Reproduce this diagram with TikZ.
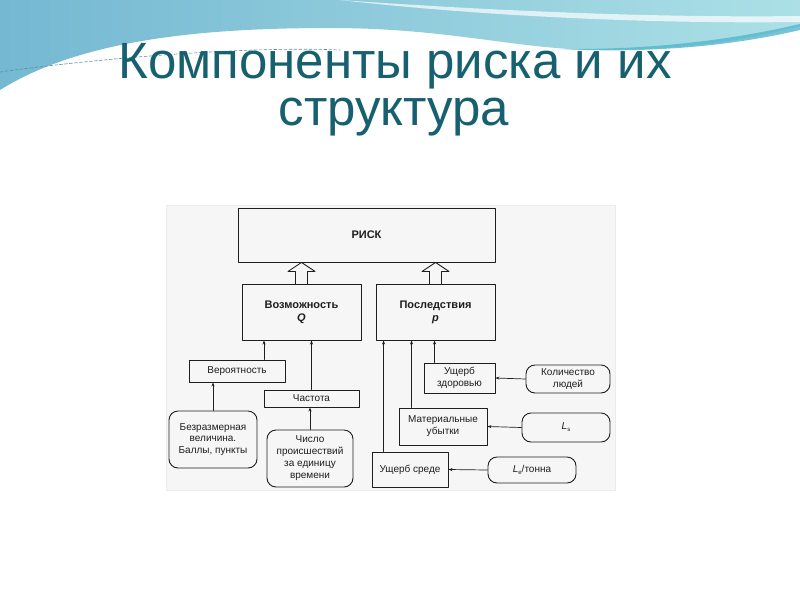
\documentclass[tikz,border=0pt]{standalone}
\usepackage{fontspec}
\setmainfont{Liberation Sans}
\usetikzlibrary{arrows.meta, positioning, calc, shapes.geometric}
\definecolor{SlideTeal}{RGB}{22, 96, 112}
\definecolor{WaveDark}{RGB}{116, 184, 210}
\definecolor{WaveLight}{RGB}{172, 224, 230}
\definecolor{WaveBand}{RGB}{84, 182, 204}
\definecolor{ScanGray}{RGB}{246, 246, 246}
\definecolor{InkBlack}{RGB}{30, 30, 30}
\tikzset{
    every node/.style={font=\fontsize{10}{12}\selectfont, text=InkBlack},
    every path/.style={line cap=round, line join=round},
    >={Stealth[length=4pt, width=3pt]},
    box/.style={draw=InkBlack, line width=0.9pt, inner sep=1pt, align=center},
    roundbox/.style={box, rounded corners=9pt},
    headbox/.style={box, font=\bfseries\fontsize{11}{13}\selectfont},
    link/.style={draw=InkBlack, line width=0.7pt, ->},
    blockarrow/.style={draw=InkBlack, line width=0.9pt, fill=ScanGray},
    titleline/.style={font=\fontsize{51}{51}\selectfont, text=SlideTeal, anchor=base}
}
\newcommand{\hollowarrow}[2]{%
    \draw [blockarrow] let \p1=(#1.north), \p2=(#2.south) in
        (\x1-6pt,\y1) -- (\x1-6pt,\y2-9pt) -- (\x1-13.5pt,\y2-9pt) -- (\x1,\y2)
        -- (\x1+13.5pt,\y2-9pt) -- (\x1+6pt,\y2-9pt) -- (\x1+6pt,\y1);
}
\newcommand{\lsub}[1]{\textit{L}\raisebox{-0.35ex}{\fontsize{6}{6}\selectfont #1}}

\begin{document}
\begin{tikzpicture}[x=1pt, y=-1pt]
    \useasboundingbox (0,0) rectangle (800,600);
    \fill [white] (0,0) rectangle (800,600);
    \shade [left color=WaveDark, right color=WaveLight]
        (0,0) -- (800,0) -- (800,26)
        .. controls (740,42) and (680,50) .. (600,50)
        .. controls (520,50) and (450,28) .. (330,28)
        .. controls (200,28) and (80,40) .. (0,90) -- cycle;
    \fill [white, opacity=0.7]
        (340,0) .. controls (480,10) and (650,18) .. (800,16)
        -- (800,22) .. controls (650,24) and (480,16) .. (340,0) -- cycle;
    \fill [WaveBand, opacity=0.8]
        (560,49) .. controls (660,50) and (740,38) .. (800,24)
        -- (800,30) .. controls (740,44) and (660,54) .. (560,49) -- cycle;
    \draw [SlideTeal!70, densely dashed, line width=0.6pt]
        (0,72) .. controls (100,58) and (250,46) .. (340,50);
    \node [titleline] (title) at (395,78) {Компоненты риска и их};
    \node [titleline] (subtitle) at (394,125) {структура};

    \fill [ScanGray, draw=black!8] (166,205) rectangle (615,490);

    \node [headbox, minimum width=257pt, minimum height=54pt] (risk) at (366.5,235) {РИСК};
    \node [headbox, minimum width=119pt, minimum height=56pt] (vozm) at (301.5,312) {Возможность\\\textit{Q}};
    \node [headbox, minimum width=119pt, minimum height=56pt] (posl) at (435.5,312) {Последствия\\\textit{p}};

    \node [box, minimum width=96pt, minimum height=22pt] (veroy) at (237,371) {Вероятность};
    \node [box, minimum width=95pt, minimum height=17pt] (chast) at (311.5,398.5) {Частота};
    \node [roundbox, minimum width=88pt, minimum height=57pt, font=\fontsize{10}{11.5}\selectfont] (bezr) at (213,439.5) {Безразмерная\\величина.\\Баллы, пункты};
    \node [roundbox, minimum width=86pt, minimum height=57pt, font=\fontsize{10}{12}\selectfont] (chislo) at (310,458.5) {Число\\происшествий\\за единицу\\времени};

    \node [box, minimum width=71pt, minimum height=30pt, font=\fontsize{10}{11.5}\selectfont] (zdor) at (459.5,378) {Ущерб\\здоровью};
    \node [roundbox, minimum width=84pt, minimum height=28pt, font=\fontsize{10}{11.5}\selectfont] (kolvo) at (568,379) {Количество\\людей};
    \node [box, minimum width=88pt, minimum height=37pt] (mater) at (443,426.5) {Материальные\\убытки};
    \node [roundbox, minimum width=88pt, minimum height=29pt] (ls) at (566,427.5) {\lsub{s}};
    \node [box, minimum width=76pt, minimum height=35pt] (sreda) at (410,469.5) {Ущерб среде};
    \node [roundbox, minimum width=88pt, minimum height=26pt] (le) at (532,470) {\lsub{e}/тонна};

    \hollowarrow{vozm}{risk}
    \hollowarrow{posl}{risk}

    \draw [link] ([xshift=27pt]veroy.north) -- ([xshift=27pt]veroy.north |- vozm.south);
    \draw [link] (chast.north) -- (chast.north |- vozm.south);
    \draw [link] (bezr.north) -- (bezr.north |- veroy.south);
    \draw [link] (chislo.north) -- (chislo.north |- chast.south);
    \draw [link] ([xshift=12pt]sreda.north west) -- ([xshift=12pt]sreda.north west |- posl.south);
    \draw [link] ([xshift=13pt]mater.north west) -- ([xshift=13pt]mater.north west |- posl.south);
    \draw [link] ([xshift=11pt]zdor.north west) -- ([xshift=11pt]zdor.north west |- posl.south);
    \draw [link] (kolvo.west) -- (zdor.east);
    \draw [link] (ls.west) -- (mater.east);
    \draw [link] (le.west) -- (sreda.east);
\end{tikzpicture}
\end{document}
